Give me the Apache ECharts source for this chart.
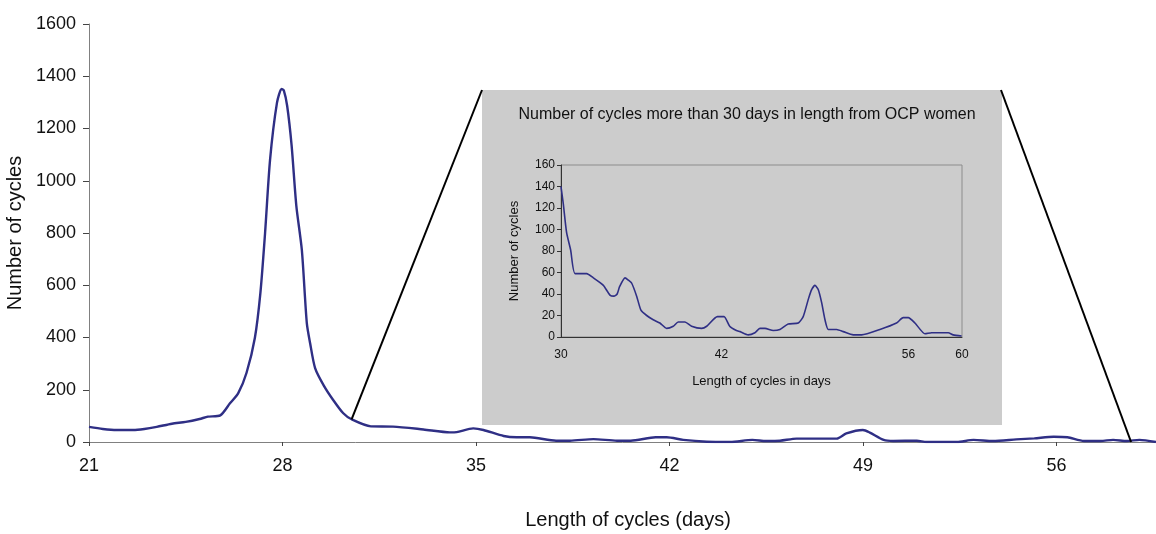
<!DOCTYPE html>
<html>
<head>
<meta charset="utf-8">
<title>Length of cycles</title>
<script src="https://cdn.jsdelivr.net/npm/echarts@6/dist/echarts.min.js"></script>
<style>
html, body { margin: 0; padding: 0; background: #fff; }
#chart { width: 1156px; height: 534px; }
</style>
</head>
<body>
<div id="chart"></div>
<script>
// all cycles
var mainDays = [21.0, 21.5, 22.0, 22.6, 23.0, 23.45, 24.0, 24.5, 25.0, 25.3, 25.75, 26.1, 26.4, 26.7, 27.0, 27.2,
  27.37, 27.55, 27.8, 27.97, 28.05, 28.17, 28.33, 28.5, 28.7, 28.88, 29.0, 29.18, 29.5, 29.84, 30.2, 30.5,
  31.2, 32.0, 33.1, 34.06, 34.3, 34.9, 35.27, 36.0, 36.47, 36.95, 37.9, 38.4, 39.25, 40.1, 40.6, 41.5, 41.9,
  42.5, 43.35, 44.2, 45.0, 45.5, 46.0, 46.6, 48.05, 48.4, 49.0, 49.25, 49.75, 50.1, 50.95, 51.3, 52.4, 53.0,
  53.7, 54.55, 55.2, 55.9, 56.4, 57.0, 57.6, 58.05, 58.55, 59.0, 59.6];
var mainCounts = [58, 50, 46, 46, 50, 58, 70, 77, 88, 97, 102, 148, 187, 265, 398, 570,
  800, 1080, 1298, 1351, 1345, 1286, 1135, 905, 735, 455, 378, 283, 215, 160, 110, 87,
  60, 59, 48, 37, 38, 52, 46, 23, 18, 18, 5, 5, 11, 5, 5, 18, 18,
  8, 1, 0, 8, 4, 5, 13, 13, 33, 46, 36, 8, 4, 5, 0, 0, 8,
  4, 10, 14, 20, 18, 4, 4, 8, 4, 8, 0];

// inset: cycles longer than 30 days
var insetDays = [30.0, 30.17, 30.42, 30.72, 31.05, 31.92, 32.42, 33.17, 33.66, 33.96, 34.2, 34.39, 34.79, 35.03,
  35.29, 35.66, 35.98, 36.41, 36.9, 37.4, 37.9, 38.4, 38.77, 39.27, 39.77, 40.52, 40.9, 41.7, 42.2, 42.62,
  43.12, 43.4, 44.0, 44.51, 44.88, 45.26, 45.88, 46.38, 47.0, 47.75, 48.12, 48.5, 48.75, 49.0, 49.25, 49.5,
  49.75, 50.0, 50.62, 51.12, 51.86, 52.49, 53.86, 55.1, 55.6, 55.98, 56.48, 57.23, 57.73, 58.97, 59.34, 59.97];
var insetCounts = [140, 124, 97, 81, 59, 59, 55, 48, 39, 38, 40, 47, 55, 53,
  50, 38, 25, 20, 16, 13, 8, 10, 14, 14, 10, 8, 10, 19, 19, 10,
  6, 5, 2, 4, 8, 8, 6, 7, 12, 13, 19, 35, 44, 48, 44, 32,
  16, 7, 7, 5, 2, 2, 7, 13, 18, 18, 13, 3, 4, 4, 2, 1];
var insetXLabels = [30, 42, 56, 60];

// where the zoom lines touch the big chart (day, count)
var zoomFrom = [[30.5, 87], [58.7, 0]];

var font = '"Liberation Sans", Arial, sans-serif';
var lineColor = '#2f2f85';

function pairs(xs, ys) {
  return xs.map(function (x, i) { return [x, ys[i]]; });
}
function plain(v) { return String(v); }

var chart = echarts.init(document.getElementById('chart'));

var option = {
  animation: false,
  backgroundColor: '#fff',
  textStyle: { fontFamily: font, color: '#111' },
  grid: [
    { left: 89, right: -11, top: 24, bottom: 92, outerBoundsMode: 'none', containLabel: false },
    { left: 561, right: 194, top: 165, bottom: 197, outerBoundsMode: 'none', containLabel: false,
      show: true, borderColor: '#8c8c8c', borderWidth: 1 }
  ],
  xAxis: [
    {
      type: 'value', gridIndex: 0, min: 21, max: 60, interval: 7,
      axisLine: { lineStyle: { color: '#808080', width: 1 } },
      axisTick: { length: 4, lineStyle: { color: '#444' } },
      axisLabel: { showMaxLabel: false, margin: 15, fontSize: 18, color: '#111', fontFamily: font, formatter: plain },
      splitLine: { show: false },
      name: 'Length of cycles (days)', nameLocation: 'middle', nameGap: 68,
      nameTextStyle: { fontSize: 20, color: '#111', fontFamily: font }
    },
    {
      type: 'value', gridIndex: 1, min: 30, max: 60,
      axisLine: { onZero: false, lineStyle: { color: '#333', width: 1 } },
      axisTick: { show: false },
      axisLabel: { customValues: insetXLabels, margin: 12, fontSize: 12, color: '#111', fontFamily: font },
      splitLine: { show: false },
      name: 'Length of cycles in days', nameLocation: 'middle', nameGap: 38,
      nameTextStyle: { fontSize: 13, color: '#111', fontFamily: font }
    }
  ],
  yAxis: [
    {
      type: 'value', gridIndex: 0, min: 0, max: 1600, interval: 200,
      axisLine: { show: true, lineStyle: { color: '#808080', width: 1 } },
      axisTick: { show: true, length: 6, lineStyle: { color: '#444' } },
      axisLabel: { margin: 13, fontSize: 18, color: '#111', fontFamily: font, formatter: plain },
      splitLine: { show: false },
      name: 'Number of cycles', nameLocation: 'middle', nameGap: 56, nameRotate: 90,
      nameTextStyle: { fontSize: 20, color: '#111', fontFamily: font }
    },
    {
      type: 'value', gridIndex: 1, min: 0, max: 160, interval: 20,
      axisLine: { show: true, lineStyle: { color: '#333', width: 1 } },
      axisTick: { show: true, length: 4, lineStyle: { color: '#333' } },
      axisLabel: { margin: 6, fontSize: 12, color: '#111', fontFamily: font },
      splitLine: { show: false },
      name: 'Number of cycles', nameLocation: 'middle', nameGap: 40, nameRotate: 90,
      nameTextStyle: { fontSize: 13, color: '#111', fontFamily: font }
    }
  ],
  series: [
    {
      type: 'line', xAxisIndex: 0, yAxisIndex: 0, data: pairs(mainDays, mainCounts),
      showSymbol: false, smooth: 0.25, lineStyle: { color: lineColor, width: 2.4 }, z: 3
    },
    {
      type: 'line', xAxisIndex: 1, yAxisIndex: 1, data: pairs(insetDays, insetCounts),
      showSymbol: false, smooth: 0.2, lineStyle: { color: lineColor, width: 1.6 }, z: 3
    }
  ]
};
chart.setOption(option);

// grey panel behind the inset, plus the two lines that tie it to the big chart
var box = { x: 482, y: 90, w: 520, h: 335 };
var a = chart.convertToPixel({ gridIndex: 0 }, zoomFrom[0]);
var b = chart.convertToPixel({ gridIndex: 0 }, zoomFrom[1]);
chart.setOption({
  title: {
    text: 'Number of cycles more than 30 days in length from OCP women',
    left: box.x + box.w / 2, top: 102, textAlign: 'center',
    textStyle: { fontSize: 16, fontWeight: 'normal', color: '#111', fontFamily: font }
  },
  graphic: [
    { type: 'rect', z: -10, shape: { x: box.x, y: box.y, width: box.w, height: box.h }, style: { fill: '#cccccc' } },
    { type: 'line', z: 10, shape: { x1: a[0], y1: a[1], x2: box.x, y2: box.y }, style: { stroke: '#000', lineWidth: 2 } },
    { type: 'line', z: 10, shape: { x1: b[0], y1: b[1], x2: box.x + box.w - 1, y2: box.y }, style: { stroke: '#000', lineWidth: 2 } }
  ]
});
</script>
</body>
</html>
